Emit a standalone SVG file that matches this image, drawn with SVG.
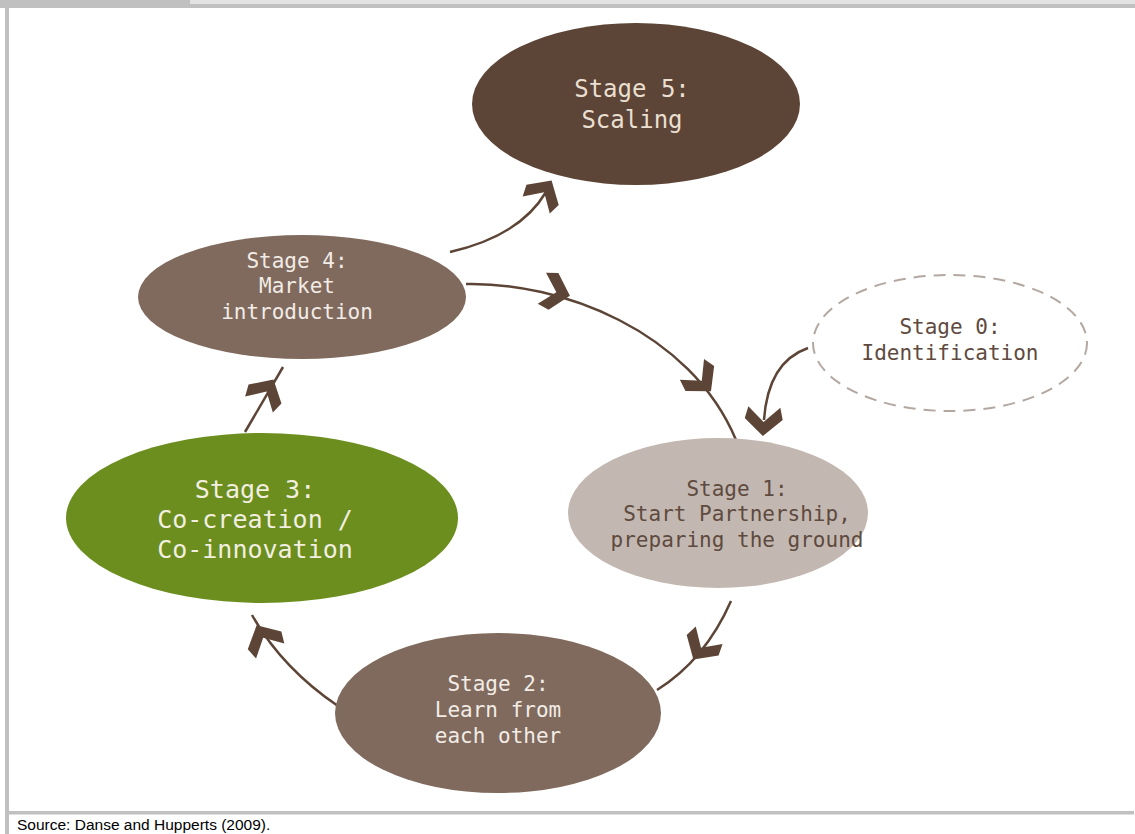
<svg xmlns="http://www.w3.org/2000/svg" width="1135" height="834" viewBox="0 0 1135 834">
<style>
.lbl{font-family:"DejaVu Sans Mono","Liberation Mono",monospace;text-anchor:middle}
.lt{fill:#f2ece6}
.dk{fill:#5e4a3e}
.con{fill:none;stroke:#5c4536;stroke-width:2.5}
.chev{fill:#5c4536}
</style>
<defs>
<path id="chev" d="M3,0 L-14,-19 L-26,-16 L-11,0 L-26,16 L-14,19 Z"/>
</defs>
<rect width="1135" height="834" fill="#ffffff"/>
<g id="frame">
<rect x="0" y="0" width="190" height="4" fill="#c0c0c0"/>
<rect x="190" y="0" width="945" height="4" fill="#e3e3e3"/>
<rect x="0" y="4" width="1135" height="4" fill="#c0c0c0"/>
<rect x="5" y="8" width="4" height="826" fill="#c0c0c0"/>
<rect x="9" y="811" width="1125" height="3.5" fill="#c0c0c0"/>
<text x="17" y="830" font-family="Liberation Sans, Arial, sans-serif" font-size="15.5" fill="#000">Source: Danse and Hupperts (2009).</text>
</g>
<g id="connectors">
<path class="con" d="M450,252 Q520,236 546,192"/>
<path class="con" d="M466,284 C560,282 690,330 736,440"/>
<path class="con" d="M808,348 Q768,362 764,420"/>
<path class="con" d="M731,601 Q705,660 657,690"/>
<path class="con" d="M338,706 Q282,668 252,615"/>
<path class="con" d="M245,432 L283,367"/>
<use href="#chev" class="chev" transform="translate(550,183) rotate(-58)"/>
<use href="#chev" class="chev" transform="translate(567,295) rotate(15)"/>
<use href="#chev" class="chev" transform="translate(709,389) rotate(49)"/>
<use href="#chev" class="chev" transform="translate(763,433) rotate(93)"/>
<use href="#chev" class="chev" transform="translate(695,657) rotate(123)"/>
<use href="#chev" class="chev" transform="translate(258,628) rotate(-118)"/>
<use href="#chev" class="chev" transform="translate(272,382) rotate(-60)"/>
</g>
<g id="stage5">
<ellipse cx="636" cy="104" rx="164" ry="81" fill="#5c4536"/>
<text class="lbl" x="632" y="97" font-size="24" fill="#eadfd0">Stage 5:</text>
<text class="lbl" x="632" y="128" font-size="24" fill="#eadfd0">Scaling</text>
</g>
<g id="stage4">
<ellipse cx="302" cy="297" rx="164" ry="62" fill="#806a5e"/>
<text class="lbl lt" x="297" y="268" font-size="21">Stage 4:</text>
<text class="lbl lt" x="297" y="293" font-size="21">Market</text>
<text class="lbl lt" x="297" y="319" font-size="21">introduction</text>
</g>
<g id="stage0">
<ellipse cx="950" cy="343" rx="137" ry="68" fill="none" stroke="#b3a8a1" stroke-width="2" stroke-dasharray="12,8"/>
<text class="lbl dk" x="950" y="334" font-size="21">Stage 0:</text>
<text class="lbl dk" x="950" y="360" font-size="21">Identification</text>
</g>
<g id="stage1">
<ellipse cx="718" cy="513" rx="150" ry="75" fill="#c3b8b1"/>
<text class="lbl dk" x="737" y="496" font-size="21">Stage 1:</text>
<text class="lbl dk" x="737" y="521" font-size="21">Start Partnership,</text>
<text class="lbl dk" x="737" y="547" font-size="21">preparing the ground</text>
</g>
<g id="stage2">
<ellipse cx="498" cy="713" rx="163" ry="80" fill="#806a5e"/>
<text class="lbl lt" x="498" y="691" font-size="21">Stage 2:</text>
<text class="lbl lt" x="498" y="717" font-size="21">Learn from</text>
<text class="lbl lt" x="498" y="743" font-size="21">each other</text>
</g>
<g id="stage3">
<ellipse cx="262" cy="518" rx="196" ry="85" fill="#6b8e1e"/>
<text class="lbl" x="255" y="498" font-size="25" fill="#f3efe0">Stage 3:</text>
<text class="lbl" x="255" y="528" font-size="25" fill="#f3efe0">Co-creation /</text>
<text class="lbl" x="255" y="558" font-size="25" fill="#f3efe0">Co-innovation</text>
</g>
</svg>
